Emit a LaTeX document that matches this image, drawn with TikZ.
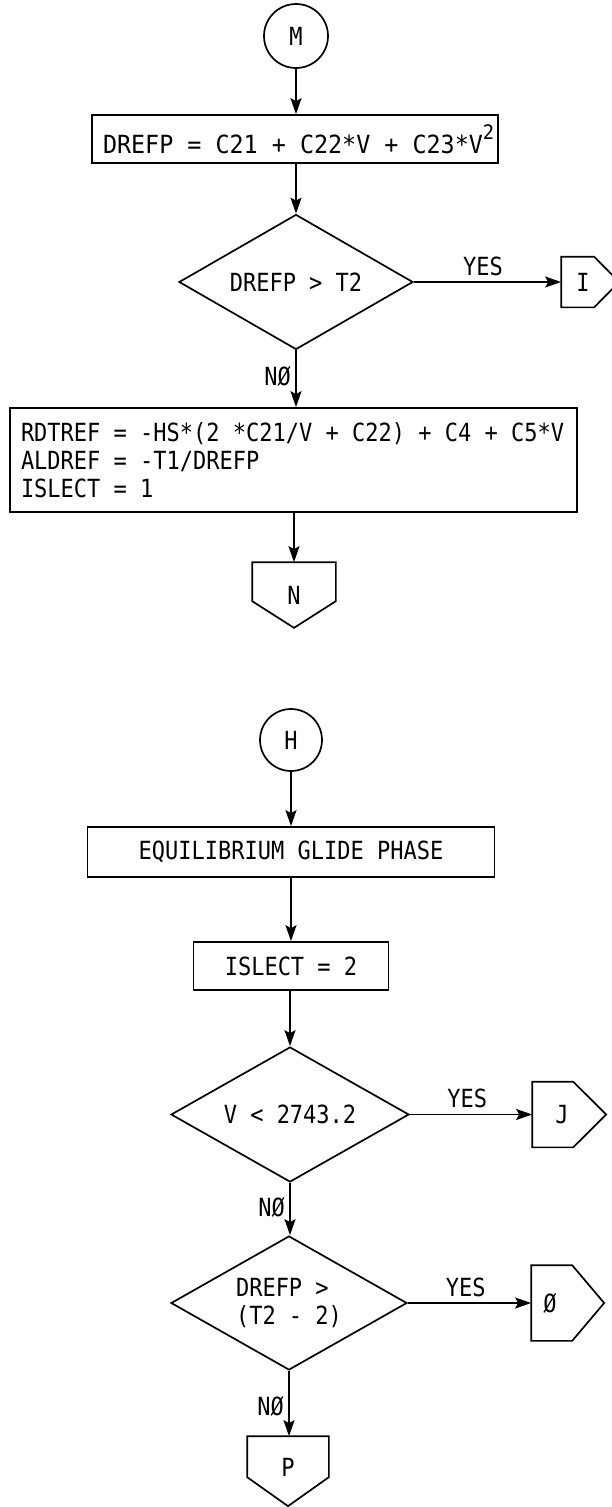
\documentclass[tikz,border=0pt]{standalone}
\usepackage{fontspec}
\newfontfamily\fcfont[FakeStretch=0.88]{DejaVu Sans Mono}
\newfontfamily\fcwide[FakeStretch=0.935]{DejaVu Sans Mono}
\usetikzlibrary{shapes.geometric,arrows.meta,calc}
\begin{document}
\begin{tikzpicture}[x=1pt,y=-1pt,line width=1.7pt,
  every node/.style={font=\fcfont\fontsize{25}{28}\selectfont},
  conn/.style={circle,draw,inner sep=0pt},
  proc/.style={rectangle,draw,inner sep=0pt},
  dec/.style={diamond,draw,inner sep=0pt,aspect=1.75},
  arr/.style={-{Stealth[length=16pt,width=11pt,inset=3pt]}},
  off/.style={rectangle,inner sep=0pt}
]
\useasboundingbox (0,0) rectangle (611,1507);

% ---------- upper chart ----------
\node[conn,minimum size=64pt] (M) at (296,36) {M};
\node[proc,minimum width=406pt,minimum height=48pt,inner xsep=11pt] (b1) at (295,139)
  {\makebox[384pt][l]{\fcwide DREFP = C21 + C22*V + C23*V\raisebox{14pt}{\fontsize{20}{20}\selectfont 2}}};
\node[dec,minimum width=234pt,minimum height=135pt] (d1) at (296,282) {DREFP > T2};
\node[off,minimum width=42pt,minimum height=49pt] (I) at (583,282) {I};
\draw ($(I.north west)+(33,0)$) -- (I.north west) -- (I.south west) -- ($(I.south west)+(33,0)$) -- ($(I.west)+(58,0)$) -- cycle;
\node[proc,minimum width=567pt,minimum height=104pt,inner xsep=11pt,align=left] (b2) at (293.5,460)
  {\makebox[545pt][l]{RDTREF = -HS*(2 *C21/V + C22) + C4 + C5*V}\\ALDREF = -T1/DREFP\\ISLECT = 1};
\node[off,minimum width=82pt,minimum height=64pt] (N) at (294,595) {N};
\draw (N.north west) -- (N.north east) -- ($(N.north east)+(0,39)$) -- (N.south) -- ($(N.north west)+(0,39)$) -- cycle;

\draw[arr] (M) -- (M |- b1.north);
\draw[arr] (b1.south -| M) -- (d1.north);
\draw[arr] (d1.east) -- node[above=2pt,pos=0.47]{YES} (d1.east -| I.west);
\draw[arr] (d1.south) -- node[left=1pt,pos=0.45]{NØ} (d1.south |- b2.north);
\draw[arr] (b2.south -| N) -- (N.north);

% ---------- lower chart ----------
\node[conn,minimum size=62pt] (H) at (291,740) {H};
\node[proc,minimum width=407pt,minimum height=50pt] (b3) at (291,852) {EQUILIBRIUM GLIDE PHASE};
\node[proc,minimum width=195pt,minimum height=48pt] (b4) at (291,966) {ISLECT = 2};
\node[dec,minimum width=238pt,minimum height=135pt] (d2) at (290,1114.5) {V < 2743.2};
\node[off,minimum width=58pt,minimum height=64pt] (J) at (562,1114.5) {J};
\draw ($(J.north west)+(41,0)$) -- (J.north west) -- (J.south west) -- ($(J.south west)+(41,0)$) -- ($(J.west)+(74,0)$) -- cycle;
\node[dec,minimum width=236pt,minimum height=134pt,align=left] (d3) at (289,1303) {DREFP >\\(T2 - 2)};
\node[off,minimum width=36pt,minimum height=74pt] (O) at (550,1303) {Ø};
\draw ($(O.north west)+(41,0)$) -- (O.north west) -- (O.south west) -- ($(O.south west)+(41,0)$) -- ($(O.west)+(73,0)$) -- cycle;
\node[off,minimum width=80pt,minimum height=60pt] (P) at (288,1467) {P};
\draw (P.north west) -- (P.north east) -- ($(P.north east)+(0,41)$) -- ($(P.north)+(0,70)$) -- ($(P.north west)+(0,41)$) -- cycle;

\draw[arr] (H) -- (H |- b3.north);
\draw[arr] (b3.south -| b4) -- (b4.north);
\draw[arr] (b4.south -| d2) -- (d2.north);
\draw[arr] (d2.east) -- node[above=2pt,pos=0.47]{YES} (d2.east -| J.west);
\draw[arr] (d2.south) -- node[left=1pt,pos=0.47]{NØ} (d2.south |- d3.north);
\draw[arr] (d3.east) -- node[above=2pt,pos=0.47]{YES} (d3.east -| O.west);
\draw[arr] (d3.south) -- node[left=1pt,pos=0.55]{NØ} (d3.south |- P.north);
\end{tikzpicture}
\end{document}
